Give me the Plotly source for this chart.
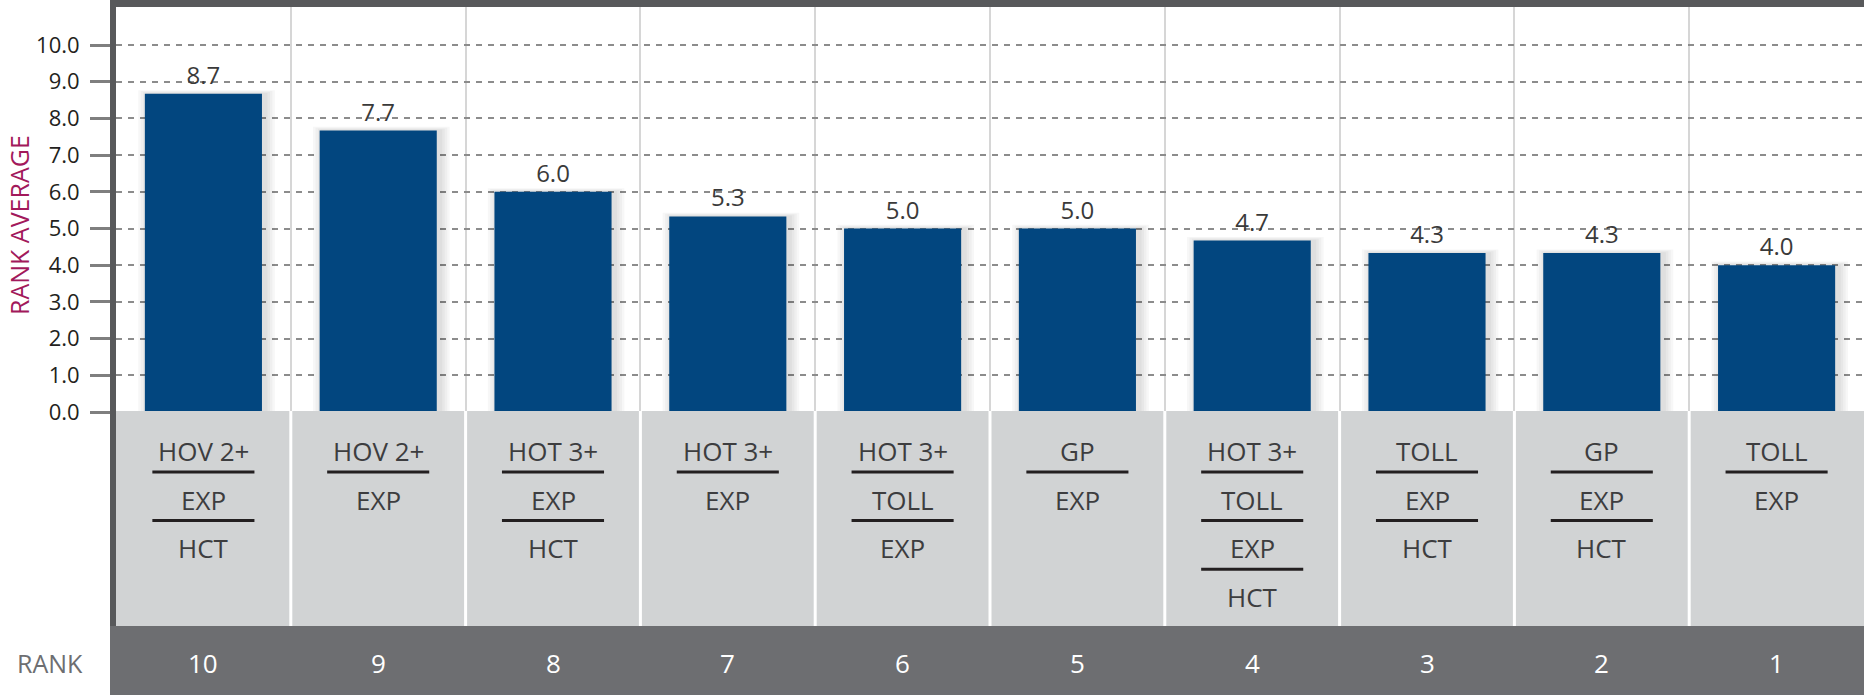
import plotly.graph_objects as go

# ---------------- data ----------------
categories = ["HOV 2+|EXP|HCT", "HOV 2+|EXP", "HOT 3+|EXP|HCT", "HOT 3+|EXP",
              "HOT 3+|TOLL|EXP", "GP|EXP", "HOT 3+|TOLL|EXP|HCT", "TOLL|EXP|HCT",
              "GP|EXP|HCT", "TOLL|EXP"]
label_stacks = [["HOV 2+", "EXP", "HCT"], ["HOV 2+", "EXP"], ["HOT 3+", "EXP", "HCT"],
                ["HOT 3+", "EXP"], ["HOT 3+", "TOLL", "EXP"], ["GP", "EXP"],
                ["HOT 3+", "TOLL", "EXP", "HCT"], ["TOLL", "EXP", "HCT"],
                ["GP", "EXP", "HCT"], ["TOLL", "EXP"]]
rank_average = [8.67, 7.67, 6.0, 5.33, 5.0, 5.0, 4.67, 4.33, 4.33, 4.0]
ranks = ["10", "9", "8", "7", "6", "5", "4", "3", "2", "1"]
y_ticks = [0, 1, 2, 3, 4, 5, 6, 7, 8, 9, 10]
y_tick_text = ["%.1f" % v for v in y_ticks]

# ---------------- layout helpers ----------------
W, H = 1864, 695
PL, PR, PT, PB = 116, 1864, 7, 412
UNIT = 36.7  # px per rank-average unit


def pxx(p):
    return (p - PL) / (PR - PL)


def pyy(p):
    return (PB - p) / (PB - PT)


FONT = "Open Sans, Noto Sans, sans-serif"
BAR = "#02467f"

fig = go.Figure()

# soft drop shadow layers (mostly to the right)
for k in range(1, 5):
    w = 0.67 + 0.028 * k
    fig.add_trace(go.Bar(
        x=categories, y=[v + 0.025 * k for v in rank_average],
        width=w, offset=-w / 2 + 0.018,
        marker=dict(color="rgba(0,0,0,0.03)", line=dict(width=0)),
        hoverinfo="skip", showlegend=False))

fig.add_trace(go.Bar(
    x=categories, y=rank_average, width=0.67,
    marker=dict(color=BAR, line=dict(width=0)),
    text=["%.1f" % v for v in rank_average], texttemplate="%{text}",
    textposition="outside", cliponaxis=False,
    textfont=dict(family=FONT, size=24, color="#3a3a3a"),
    showlegend=False))

shapes = []
# frame: top bar, grey label band, left border, dark rank band
shapes.append(dict(type="rect", xref="paper", yref="paper", x0=pxx(110), x1=1,
                   y0=pyy(7), y1=pyy(0), fillcolor="#58595b", line=dict(width=0), layer="above"))
shapes.append(dict(type="rect", xref="paper", yref="paper", x0=0, x1=1,
                   y0=pyy(626), y1=pyy(411), fillcolor="#d1d3d4", line=dict(width=0), layer="above"))
shapes.append(dict(type="rect", xref="paper", yref="paper", x0=pxx(110), x1=pxx(116),
                   y0=pyy(626), y1=pyy(0), fillcolor="#58595b", line=dict(width=0), layer="above"))
shapes.append(dict(type="rect", xref="paper", yref="paper", x0=pxx(110), x1=1,
                   y0=pyy(695), y1=pyy(626), fillcolor="#6d6e71", line=dict(width=0), layer="above"))
# white separators in label band
for i in range(len(categories) - 1):
    shapes.append(dict(type="line", xref="x", yref="paper", x0=i + 0.5, x1=i + 0.5,
                       y0=pyy(626), y1=pyy(411), line=dict(color="white", width=3), layer="above"))

annotations = []
ROW0, PITCH, LINE0 = 451, 48.6, 472
for i, stack in enumerate(label_stacks):
    for j, txt in enumerate(stack):
        annotations.append(dict(x=i, xref="x", y=pyy(ROW0 + PITCH * j), yref="paper",
                                text=txt, showarrow=False, xanchor="center", yanchor="middle",
                                font=dict(family=FONT, size=26, color="#3d3d3f")))
        if j < len(stack) - 1:
            yl = pyy(LINE0 + PITCH * j)
            shapes.append(dict(type="line", xref="x", yref="paper", x0=i - 0.292, x1=i + 0.292,
                               y0=yl, y1=yl, line=dict(color="#231f20", width=3), layer="above"))
    annotations.append(dict(x=i, xref="x", y=pyy(663), yref="paper", text=ranks[i],
                            showarrow=False, xanchor="center", yanchor="middle",
                            font=dict(family=FONT, size=26, color="#ffffff")))

annotations.append(dict(x=pxx(50), xref="paper", y=pyy(663), yref="paper", text="RANK",
                        showarrow=False, xanchor="center", yanchor="middle",
                        font=dict(family=FONT, size=25, color="#6d6e71")))
annotations.append(dict(x=pxx(19), xref="paper", y=pyy(225), yref="paper", text="RANK AVERAGE",
                        textangle=-90, showarrow=False, xanchor="center", yanchor="middle",
                        font=dict(family=FONT, size=25, color="#a2195b")))

fig.update_layout(
    width=W, height=H,
    margin=dict(l=PL, r=W - PR, t=PT, b=H - PB, pad=0),
    paper_bgcolor="white", plot_bgcolor="white",
    barmode="overlay", showlegend=False,
    shapes=shapes, annotations=annotations,
    xaxis=dict(type="category", range=[-0.5, len(categories) - 0.5],
               showticklabels=False, ticks="", tickson="boundaries",
               showgrid=True, gridcolor="#d6d6d6", gridwidth=1.5,
               zeroline=False, showline=False, fixedrange=True),
    yaxis=dict(range=[0, (PB - PT) / UNIT], tickmode="array", tickvals=y_ticks,
               ticktext=y_tick_text, ticks="outside", ticklen=20, tickwidth=2.5,
               tickcolor="#7f7f7f", showline=True, linewidth=6, linecolor="#58595b",
               showgrid=True, gridcolor="#8c8c8c", gridwidth=2, griddash="6px,6px",
               zeroline=False, ticklabelstandoff=6,
               tickfont=dict(family=FONT, size=22, color="#231f20"),
               fixedrange=True),
)

fig.write_html("out.html", config={"displayModeBar": False})
